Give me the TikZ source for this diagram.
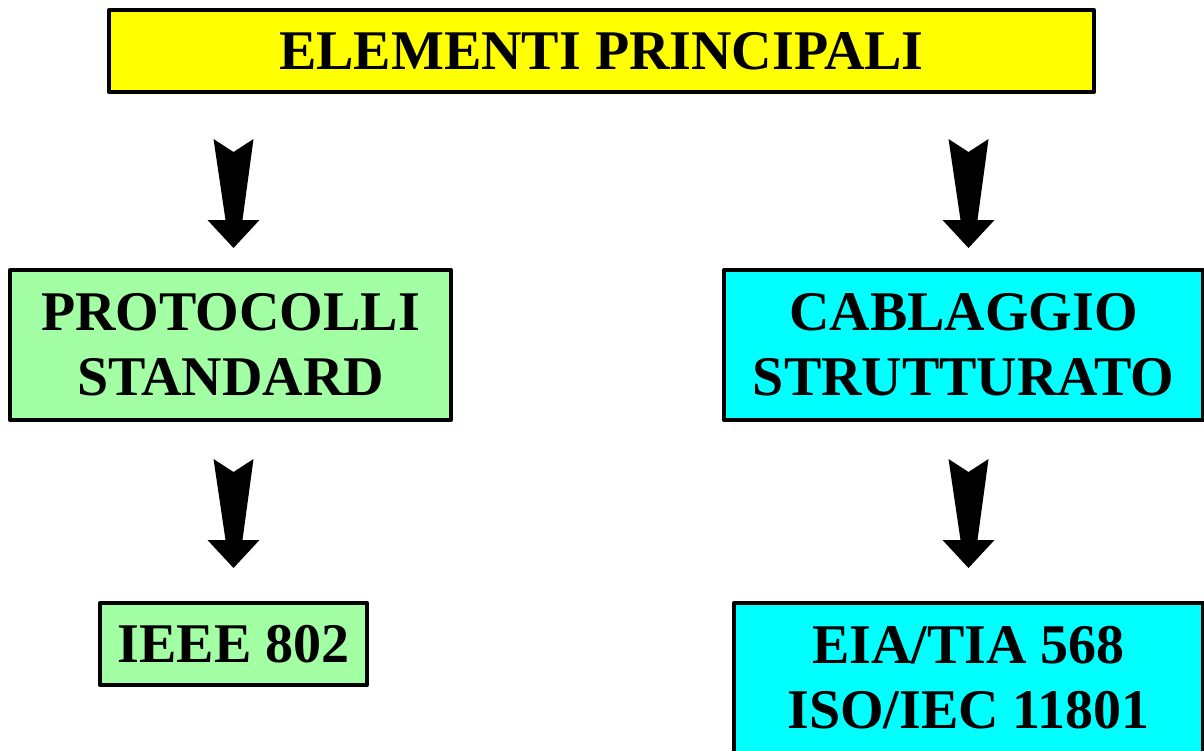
\documentclass[tikz,border=0pt]{standalone}
\usepackage{fontspec}
\setmainfont{Liberation Serif}
\usetikzlibrary{calc}
\definecolor{boxyellow}{HTML}{FFFF00}
\definecolor{boxgreen}{HTML}{A3FFA3}
\definecolor{boxcyan}{HTML}{00FFFF}
\tikzset{
  box/.style={draw=black, line width=4pt, line join=round, inner sep=0pt, align=center,
    font=\bfseries\fontsize{56}{65}\selectfont},
  blockarrow/.pic={\fill[black] (-20,0) -- (0,13) -- (20,0) -- (9,81) -- (26,81) -- (0,109) -- (-26,81) -- (-8,81) -- cycle;}
}
\begin{document}
\begin{tikzpicture}[x=1pt,y=-1pt]
\useasboundingbox (0,0) rectangle (1204,750);
\clip (0,0) rectangle (1204,750);
\node[box, fill=boxyellow, minimum width=985, minimum height=82] (top) at (601.5,51) {ELEMENTI PRINCIPALI};
\node[box, fill=boxgreen, minimum width=441, minimum height=150] (prot) at (230.5,345) {PROTOCOLLI\\STANDARD};
\node[box, fill=boxcyan, minimum width=479, minimum height=150] (cab) at (963.5,345) {CABLAGGIO\\STRUTTURATO};
\node[box, fill=boxgreen, minimum width=267, minimum height=82] (ieee) at (233.5,644) {IEEE 802};
\node[box, fill=boxcyan, minimum width=469, minimum height=150] (eia) at (968.5,678) {EIA/TIA 568\\ISO/IEC 11801};
\path ($(top.south -| prot.north)+(3,45)$) pic {blockarrow};
\path ($(top.south -| cab.north)+(5,45)$) pic {blockarrow};
\path ($(prot.south)+(3,37)$) pic {blockarrow};
\path ($(cab.south)+(5,37)$) pic {blockarrow};
\end{tikzpicture}
\end{document}
